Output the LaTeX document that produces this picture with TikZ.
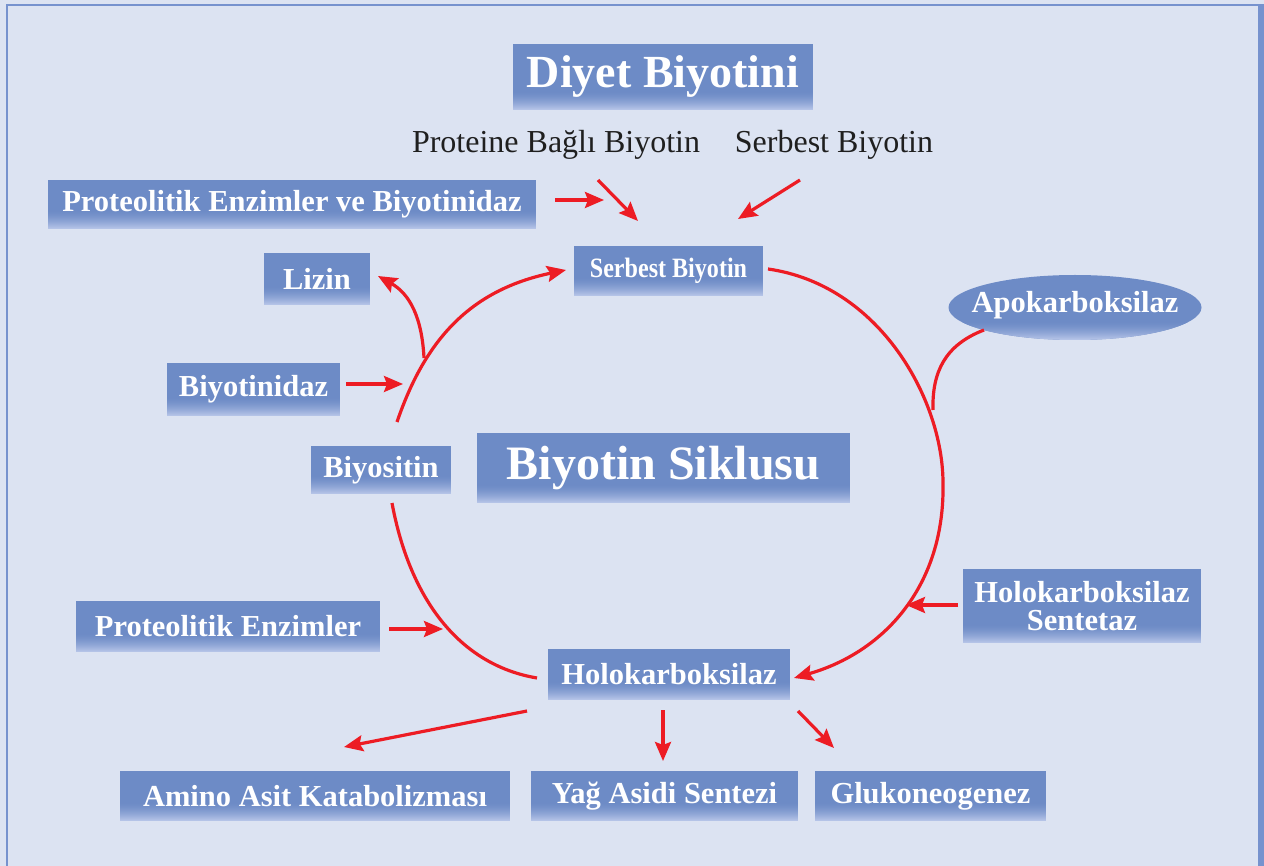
\documentclass[tikz,border=0pt]{standalone}
\usepackage{fontspec}
\setmainfont{Liberation Serif}
\newfontfamily\condfont[FakeStretch=0.86]{Liberation Serif}
\usetikzlibrary{arrows.meta,shapes.geometric}
\definecolor{bgcol}{RGB}{220,227,242}
\definecolor{framecol}{RGB}{118,146,206}
\definecolor{boxblue}{RGB}{109,139,198}
\definecolor{boxlight}{RGB}{180,195,231}
\definecolor{arrred}{RGB}{237,28,36}
\tikzset{
  grad/.style={fill=boxblue,
    path picture={\foreach \i in {0,...,17}{
      \pgfmathsetmacro\p{100*(1-\i/18)^1.6}
      \fill[boxlight!\p!boxblue]
        ([yshift=\i pt]path picture bounding box.south west) rectangle
        ([yshift=\i pt+1.2pt]path picture bounding box.south east);}}},
  box/.style={grad, text=white, inner sep=0pt, align=center,
    font=\bfseries\fontsize{30.5}{28}\selectfont},
  plain/.style={text=black!88, inner sep=0pt, font=\fontsize{32}{32}\selectfont},
  arr/.style={draw=arrred, line width=3.2pt, -{Stealth[length=19pt,width=16pt,inset=3pt]}},
  ln/.style={draw=arrred, line width=3.2pt},
}
\begin{document}
\begin{tikzpicture}[x=1pt,y=-1pt]
\useasboundingbox (0,0) rectangle (1264,866);
\fill[bgcol] (0,0) rectangle (1264,866);
\draw[framecol, line width=2.2pt] (7,870) -- (7,5) -- (1258,5);
\fill[framecol] (1258,4) rectangle (1264,866);

% nodes
\node[box, minimum width=300pt, minimum height=66pt, font=\bfseries\fontsize{46}{46}\selectfont] (diyet) at (663,77) {Diyet Biyotini};
\node[plain] (pbb) at (556,145) {Proteine Bağlı Biyotin};
\node[plain] (sbt) at (834,145) {Serbest Biyotin};
\node[box, minimum width=488pt, minimum height=49pt] (peb) at (292,204.5) {Proteolitik Enzimler ve Biyotinidaz};
\node[box, minimum width=189pt, minimum height=50pt, font=\condfont\bfseries\fontsize{28}{28}\selectfont] (serb) at (668.5,271) {Serbest Biyotin};
\node[box, minimum width=106pt, minimum height=52pt] (lizin) at (317,279) {Lizin};
\path[grad] (1075,307.5) ellipse (126.5pt and 32.5pt);
\node[text=white, inner sep=0pt, font=\bfseries\fontsize{30.5}{28}\selectfont] (apo) at (1075,305) {Apokarboksilaz};
\node[box, minimum width=173pt, minimum height=53pt] (bdz) at (253.5,389.5) {Biyotinidaz};
\node[box, minimum width=140pt, minimum height=48pt] (bys) at (381,470) {Biyositin};
\node[box, minimum width=373pt, minimum height=70pt, font=\bfseries\fontsize{48}{48}\selectfont] (sik) at (663.5,468) {Biyotin Siklusu};
\node[box, minimum width=304pt, minimum height=51pt] (pe) at (228,626.5) {Proteolitik Enzimler};
\node[box, minimum width=238pt, minimum height=74pt] (hs) at (1082,606) {Holokarboksilaz\\Sentetaz};
\node[box, minimum width=242pt, minimum height=51pt] (holo) at (669,674.5) {Holokarboksilaz};
\node[box, minimum width=390pt, minimum height=50pt] (amino) at (315,796) {Amino Asit Katabolizması};
\node[box, minimum width=267pt, minimum height=50pt] (yag) at (664.5,796) {Yağ Asidi Sentezi};
\node[box, minimum width=231pt, minimum height=50pt] (gluk) at (930.5,796) {Glukoneogenez};

% coordinates
\coordinate (a1s) at (555,200); \coordinate (a1e) at (604,200);
\coordinate (a2s) at (598,180); \coordinate (a2e) at (638,221);
\coordinate (a3s) at (800,180); \coordinate (a3e) at (738,219);
\coordinate (c1s) at (397,422); \coordinate (c1e) at (566,270);
\coordinate (lzs) at (424,358); \coordinate (lze) at (378,276);
\coordinate (bds) at (346,384); \coordinate (bde) at (403,384);
\coordinate (c2s) at (768,269); \coordinate (c2m) at (943,483); \coordinate (c2e) at (794,678);
\coordinate (aps) at (984,330); \coordinate (ape) at (933,410);
\coordinate (hss) at (958,605); \coordinate (hse) at (906,605);
\coordinate (c3s) at (392,503); \coordinate (c3e) at (537,678);
\coordinate (pes) at (389,629); \coordinate (pee) at (443,629);
\coordinate (h1s) at (527,711); \coordinate (h1e) at (344,747);
\coordinate (h2s) at (663,710); \coordinate (h2e) at (663,761);
\coordinate (h3s) at (798,711); \coordinate (h3e) at (834,748);

% connectors
\draw[arr] (a1s) -- (a1e);
\draw[arr] (a2s) -- (a2e);
\draw[arr] (a3s) -- (a3e);
\draw[arr] (c1s) .. controls (425,340) and (470,290) .. (c1e);
\draw[arr] (lzs) .. controls (422,318) and (410,294) .. (lze);
\draw[arr] (bds) -- (bde);
\draw[arr] (c2s) .. controls (880,285) and (943,400) .. (c2m) .. controls (945,585) and (885,652) .. (c2e);
\draw[ln] (aps) .. controls (945,345) and (932,372) .. (ape);
\draw[arr] (hss) -- (hse);
\draw[ln] (c3s) .. controls (410,600) and (460,665) .. (c3e);
\draw[arr] (pes) -- (pee);
\draw[arr] (h1s) -- (h1e);
\draw[arr] (h2s) -- (h2e);
\draw[arr] (h3s) -- (h3e);
\end{tikzpicture}
\end{document}
